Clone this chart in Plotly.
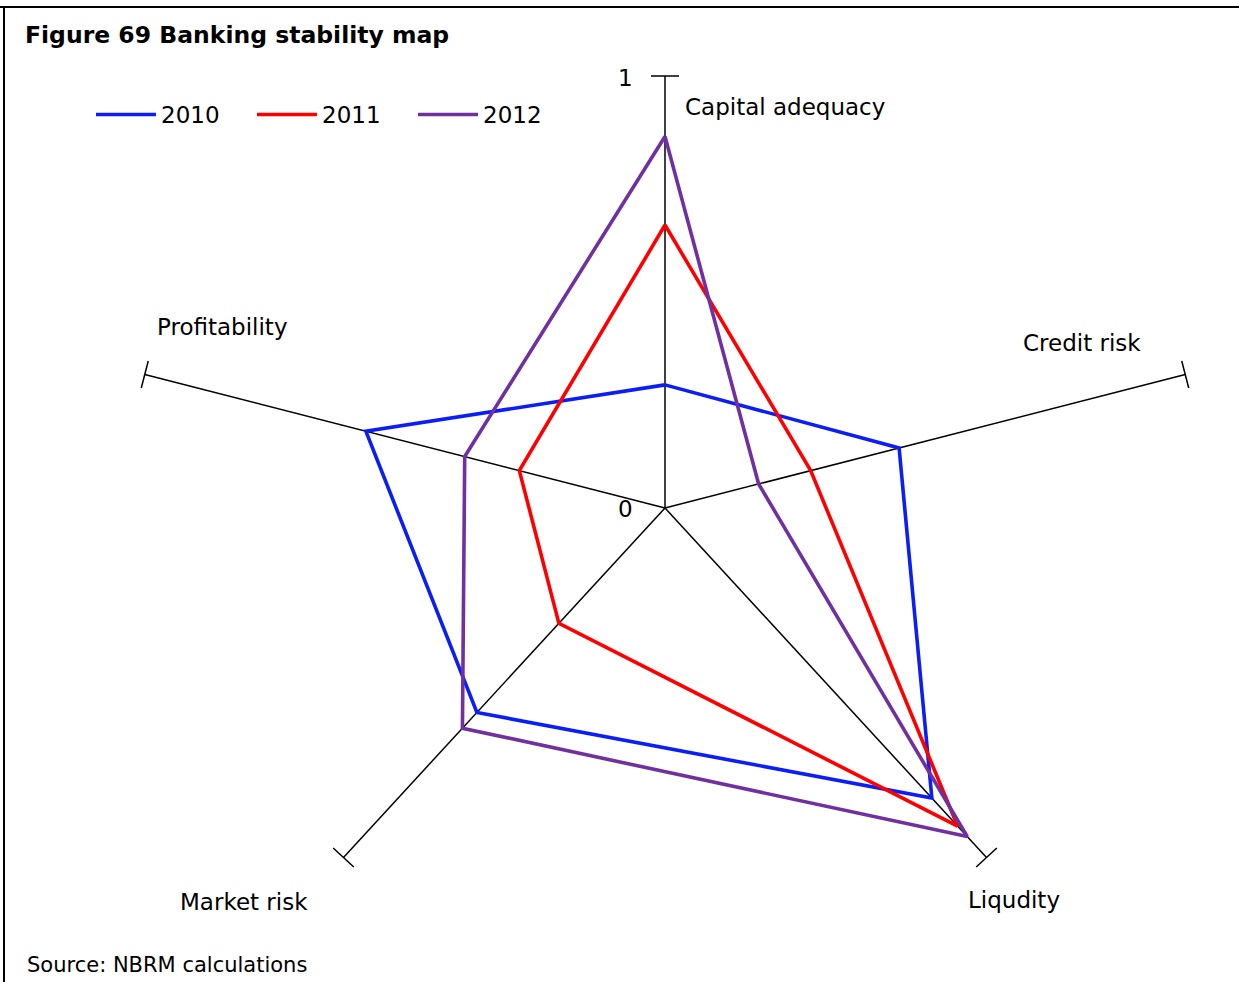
import numpy as np
import plotly.graph_objects as go

# ---------------- data ----------------
categories = ["Capital adequacy", "Credit risk", "Liqudity", "Market risk", "Profitability"]
years = ["2010", "2011", "2012"]
values_2010 = [0.285, 0.45, 0.83, 0.585, 0.575]
values_2011 = [0.655, 0.28, 0.91, 0.33, 0.28]
values_2012 = [0.86, 0.18, 0.94, 0.63, 0.385]
radial_ticks = [0, 1]
radial_tick_labels = ["0", "1"]

series = [values_2010, values_2011, values_2012]
colors = ["#0A1EF5", "#FF0000", "#7030A0"]

# ---------------- geometry ----------------
W, H = 1239, 982
cx, cy = 665, 508          # centre in pixels
sx, sy = 547, 432          # pixels per unit (the original is stretched horizontally)

n = len(categories)
theta = np.deg2rad(90 - 72 * np.arange(n))
ux, uy = np.cos(theta), np.sin(theta)

fig = go.Figure()

# spokes
sp_x, sp_y = [], []
for a, b in zip(ux, uy):
    sp_x += [0, a, None]
    sp_y += [0, b, None]
fig.add_trace(go.Scatter(x=sp_x, y=sp_y, mode="lines",
                         line=dict(color="black", width=1.5),
                         showlegend=False, hoverinfo="skip"))

# end ticks (perpendicular to each spoke in screen space)
tick_angles = np.rad2deg(np.arctan2(sx * ux, sy * uy))
fig.add_trace(go.Scatter(x=ux * radial_ticks[-1], y=uy * radial_ticks[-1], mode="markers",
                         marker=dict(symbol="line-ew", size=20, angle=list(tick_angles),
                                     line=dict(color="black", width=1.5)),
                         showlegend=False, hoverinfo="skip"))

# data series
for name, vals, col in zip(years, series, colors):
    v = np.array(vals + vals[:1])
    t_x = np.append(ux, ux[0])
    t_y = np.append(uy, uy[0])
    fig.add_trace(go.Scatter(x=v * t_x, y=v * t_y, mode="lines", name=name,
                             line=dict(color=col, width=3.6),
                             hovertemplate="%{text}<extra>" + name + "</extra>",
                             text=[f"{c}: {val}" for c, val in zip(categories + categories[:1], v)]))

# category labels
label_font = dict(family="DejaVu Sans", size=23, color="black")
shifts = [(18, -31, "left"), (-103, 32, "center"), (27, -42, "center"),
          (-99, -44, "center"), (78, 48, "center")]
for cat, a, b, (dx, dy, xa) in zip(categories, ux, uy, shifts):
    fig.add_annotation(x=a, y=b, text=cat, showarrow=False, xshift=dx, yshift=dy,
                       xanchor=xa, yanchor="middle", font=label_font)

# radial tick labels (0 at centre, 1 at top of first spoke)
for r, lab in zip(radial_ticks, radial_tick_labels):
    fig.add_annotation(x=r * ux[0], y=r * uy[0], text=lab, showarrow=False,
                       xshift=-40, yshift=-2 if r else -1, xanchor="center", yanchor="middle",
                       font=label_font)

# source
fig.add_annotation(x=25 / W, y=1 - 965 / H, xref="paper", yref="paper", text="Source: NBRM calculations",
                   showarrow=False, xanchor="left", yanchor="middle",
                   font=dict(family="DejaVu Sans", size=21, color="black"))

# frame (top and left)
fig.add_shape(type="line", xref="paper", yref="paper", x0=0, x1=1, y0=1 - 7 / H, y1=1 - 7 / H,
              line=dict(color="black", width=2))
fig.add_shape(type="line", xref="paper", yref="paper", x0=4 / W, x1=4 / W, y0=0, y1=1 - 7 / H,
              line=dict(color="black", width=2))

fig.update_layout(
    width=W, height=H,
    margin=dict(l=0, r=0, t=0, b=0),
    paper_bgcolor="white", plot_bgcolor="white",
    title=dict(text="<b>Figure 69 Banking stability map</b>", x=25 / W, xanchor="left",
               y=1 - 35 / H, yanchor="middle", xref="paper", yref="paper",
               font=dict(family="DejaVu Sans", size=23.5, color="black")),
    xaxis=dict(range=[-cx / sx, (W - cx) / sx], visible=False, fixedrange=True),
    yaxis=dict(range=[-(H - cy) / sy, cy / sy], visible=False, fixedrange=True),
    legend=dict(orientation="h", x=91 / W, xanchor="left", y=1 - 93 / H, yanchor="top",
                font=dict(family="DejaVu Sans", size=23, color="black"),
                itemwidth=60, entrywidth=86, bgcolor="rgba(0,0,0,0)"),
    showlegend=True,
)

fig.write_html("out.html", config={"displayModeBar": False},
               post_script="document.body.style.margin='0';document.body.style.overflow='hidden';")
